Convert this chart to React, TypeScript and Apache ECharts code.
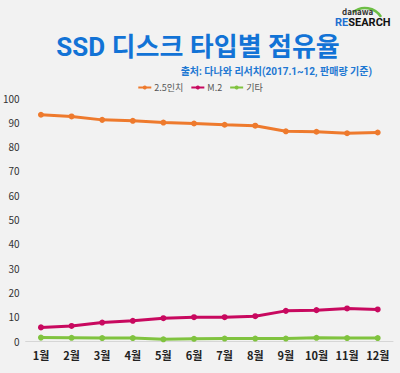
import React, { useEffect, useRef } from "react";
import * as echarts from "echarts";

const months = ["1월", "2월", "3월", "4월", "5월", "6월", "7월", "8월", "9월", "10월", "11월", "12월"];
const seriesNames = ["2.5인치", "M.2", "기타"];
const inch25 = [93.1, 92.4, 91.0, 90.6, 89.9, 89.5, 89.0, 88.6, 86.3, 86.1, 85.5, 85.8];
const m2 = [5.6, 6.2, 7.6, 8.3, 9.4, 9.8, 9.8, 10.2, 12.4, 12.7, 13.4, 13.0];
const etc = [1.4, 1.3, 1.2, 1.2, 0.7, 0.9, 1.0, 1.0, 1.0, 1.3, 1.2, 1.2];
const colors = ["#EE7A2D", "#C8095F", "#80C33F"];

export default function App() {
  const ref = useRef<HTMLDivElement>(null);
  useEffect(() => {
    const chart = echarts.init(ref.current!, null, { renderer: "svg" });
    const font = "'Noto Sans CJK KR', 'Noto Sans', sans-serif";
    const headFont = "Roboto, 'Noto Sans CJK KR', sans-serif";
    const narrow = "'Liberation Sans Narrow', 'Roboto', sans-serif";
    const mk = (name: string, data: number[], color: string) => ({
      name,
      type: "line",
      data,
      symbol: "circle",
      symbolSize: 6,
      lineStyle: { color, width: 3 },
      itemStyle: { color },
    });
    chart.setOption({
      animation: false,
      backgroundColor: "#F2F2F2",
      textStyle: { fontFamily: font },
      graphic: [
        {
          type: "text",
          x: 198,
          y: 47,
          style: {
            text: "SSD 디스크 타입별 점유율",
            fontFamily: headFont,
            fontSize: 26,
            lineHeight: 26,
            fontWeight: "bold",
            fill: "#1273D6",
            align: "center",
            verticalAlign: "middle",
          },
        },
        {
          type: "text",
          right: 28,
          top: 66,
          style: {
            text: "출처: 다나와 리서치(2017.1~12, 판매량 기준)",
            fontFamily: headFont,
            fontSize: 10,
            lineHeight: 10,
            fontWeight: "bold",
            fill: "#1E78D2",
          },
        },
        {
          type: "arc",
          shape: { cx: 365, cy: 27, r: 19, startAngle: -Math.PI * 0.72, endAngle: -Math.PI * 0.18 },
          style: { stroke: "#6DBE45", lineWidth: 2.5, fill: "none" },
        },
        {
          type: "text",
          x: 342,
          y: 7,
          style: { text: "danawa", fontFamily: font, fontSize: 8, lineHeight: 9, fontWeight: "bold", fill: "#333" },
        },
        {
          type: "text",
          x: 335,
          y: 17,
          style: {
            text: "{a|RE}{b|SEARCH}",
            rich: {
              a: { fontFamily: narrow, fontSize: 11, lineHeight: 10, fontWeight: "bold", fill: "#1E6FD0" },
              b: { fontFamily: narrow, fontSize: 11, lineHeight: 10, fontWeight: "bold", fill: "#111" },
            },
          },
        },
      ],
      legend: {
        top: 78,
        left: "center",
        itemWidth: 13,
        itemHeight: 5,
        itemGap: 7,
        textStyle: { fontSize: 9, color: "#555", padding: [0, 0, 0, -2] },
        data: seriesNames,
      },
      grid: { left: 24, right: 7, top: 98, bottom: 32 },
      xAxis: {
        type: "category",
        data: months,
        boundaryGap: true,
        axisLine: { lineStyle: { color: "#D6D6D6" } },
        axisTick: { show: false },
        axisLabel: { color: "#222", fontWeight: "bold", fontSize: 11, margin: 8 },
      },
      yAxis: {
        type: "value",
        min: 0,
        max: 100,
        interval: 10,
        splitLine: { show: false },
        axisLine: { show: false },
        axisTick: { show: false },
        axisLabel: { color: "#333", fontSize: 10, margin: 6 },
      },
      series: [mk(seriesNames[0], inch25, colors[0]), mk(seriesNames[1], m2, colors[1]), mk(seriesNames[2], etc, colors[2])],
    });
    return () => chart.dispose();
  }, []);
  return <div ref={ref} style={{ width: 400, height: 373, position: "absolute", left: 0, top: 0 }} />;
}
